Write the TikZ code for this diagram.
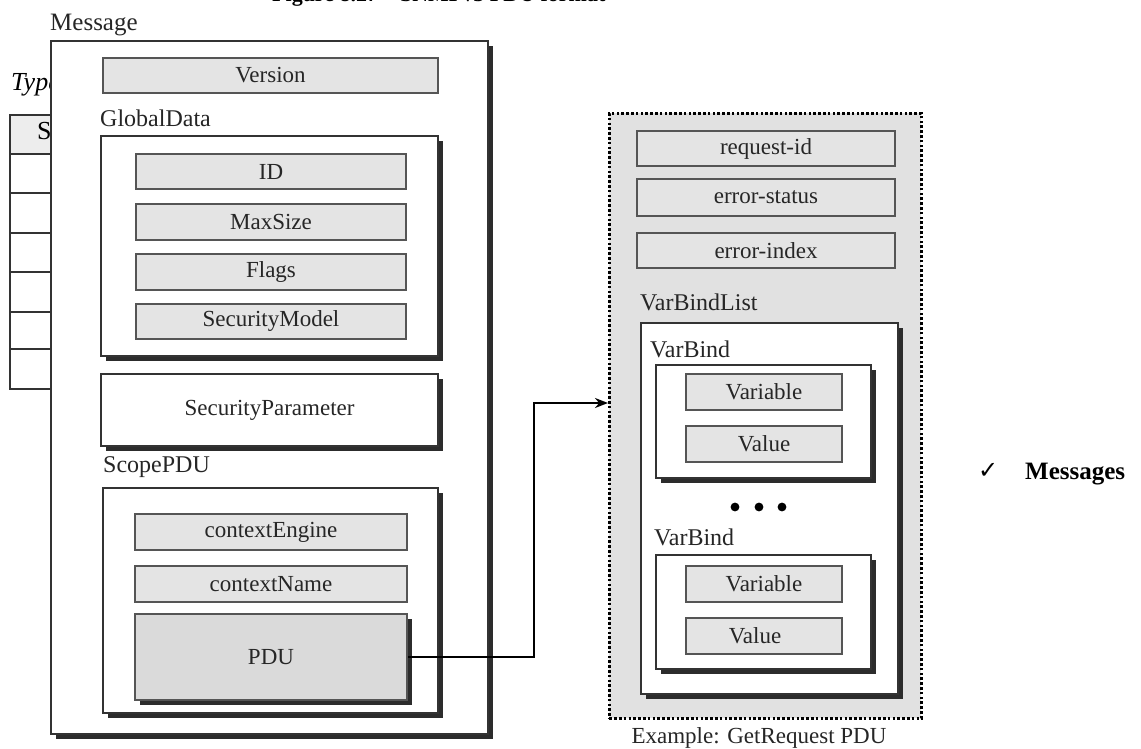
\documentclass[tikz,border=0pt]{standalone}
\usepackage{fontspec}
\setmainfont{Liberation Serif}
\newfontfamily\symfont{DejaVu Sans}
\usetikzlibrary{arrows.meta,shadows}

\newcommand{\fz}[1]{\fontsize{#1}{#1}\selectfont}

\definecolor{fieldfill}{HTML}{E4E4E4}
\definecolor{pdufill}{HTML}{DADADA}
\definecolor{edge}{HTML}{333333}
\definecolor{fieldedge}{HTML}{555555}
\definecolor{shade}{HTML}{2C2C2C}
\definecolor{ink}{HTML}{262626}
\definecolor{panel}{HTML}{E1E1E1}
\definecolor{headfill}{HTML}{EDEDED}

\tikzset{
  wh/.style 2 args={minimum width=#1pt, minimum height=#2pt, inner sep=0pt, anchor=north west},
  field/.style={draw=fieldedge, line width=2pt, fill=fieldfill, text=ink, font=\fz{23}},
  holder/.style={draw=edge, line width=2.2pt, fill=white, text=ink, font=\fz{23},
    drop shadow={shadow xshift=5pt, shadow yshift=-5pt, fill=shade, opacity=1}},
  caption/.style={anchor=base west, inner sep=0pt, text=ink, font=\fz{24}},
  tabline/.style={draw=edge, line width=1.6pt},
  link/.style={draw=black, line width=2.4pt, -{Stealth[length=13pt,width=10pt]}},
}

\begin{document}
\begin{tikzpicture}[x=1pt,y=-1pt]
\useasboundingbox (0,0) rectangle (1141,749);

% heading at the top edge of the page
\node[anchor=base west, inner sep=0pt, font=\bfseries\fz{22}] (title) at (272,2) {Figure 8.27 -- SNMPv3 PDU format};

% text and table lying behind the message box
\node[anchor=base west, inner sep=0pt, font=\itshape\fz{26}] (typ) at (11,91) {Types of messages};
\fill[headfill] (10,115) rectangle (120,154);
\node[anchor=base west, inner sep=0pt, font=\fz{26}] (sno) at (37,140) {S.No};
\draw[tabline] (120,115) -- (10,115) -- (10,389) -- (120,389);
\foreach \yy in {154,193,233,272,312,349} \draw[tabline] (10,\yy) -- (120,\yy);

% message
\node[caption, font=\fz{25}] (msglbl) at (50,31) {Message};
\node[holder, wh={437}{693}] (msg) at (50,40) {};
\node[field, wh={335}{35}] (version) at (102,57) {Version};

% global data
\node[caption] (gdlbl) at (100,127) {GlobalData};
\node[holder, wh={337}{220}] (gd) at (100,135) {};
\node[field, wh={270}{35}] (id) at (135,153) {ID};
\node[field, wh={270}{36}] (maxsize) at (135,203) {MaxSize};
\node[field, wh={270}{36}] (flags) at (135,253) {Flags};
\node[field, wh={270}{35}] (secmodel) at (135,303) {SecurityModel};

% security parameters
\node[holder, wh={337}{72}] (secparam) at (100,373) {SecurityParameter};

% scoped PDU
\node[caption] (splbl) at (103,472) {ScopePDU};
\node[holder, wh={335}{225}] (scope) at (102,487) {};
\node[field, wh={272}{36}] (ctxengine) at (134,513) {contextEngine};
\node[field, wh={272}{36}] (ctxname) at (134,565) {contextName};
\node[field, fill=pdufill, wh={272}{86},
  drop shadow={shadow xshift=5pt, shadow yshift=-5pt, fill=shade, opacity=1}] (pdu) at (134,613) {PDU};

% GetRequest PDU panel
\node[draw=black, dash pattern=on 2.6pt off 2.2pt, line width=2.6pt, fill=panel, wh={312}{605}] (panel) at (608,112) {};
\node[anchor=base, inner sep=0pt, text=ink, font=\fz{23}] (paneltitle) at (759,743) {Example: GetRequest PDU};
\node[field, wh={258}{35}] (reqid) at (636,130) {request-id};
\node[field, wh={258}{37}] (errstatus) at (636,178) {error-status};
\node[field, wh={258}{35}] (errindex) at (636,232) {error-index};

\node[caption] (vbllbl) at (640,310) {VarBindList};
\node[holder, wh={257}{371}] (vbl) at (640,322) {};

\node[caption] (vb1lbl) at (650,357) {VarBind};
\node[holder, wh={215}{113}] (vb1) at (655,364) {};
\node[field, wh={156}{36}] (var1) at (685,373) {Variable};
\node[field, wh={156}{36}] (val1) at (685,425) {Value};

\foreach \xx [count=\i] in {735,759,782}
  \fill[black] (\xx,507) circle (4.4pt) coordinate (dot\i);

\node[caption] (vb2lbl) at (654,545) {VarBind};
\node[holder, wh={215}{114}] (vb2) at (655,554) {};
\node[field, wh={156}{36}] (var2) at (685,565) {Variable};
\node[field, wh={156}{36}, text width=156pt, align=center] (val2) at (685,617) {\hspace*{-18pt}Value};

% PDU expands into the panel
\coordinate (bend) at (534,403);
\draw[link] (pdu.east) -| (bend) -- (bend -| panel.west);

% side bullet
\node[anchor=base west, inner sep=0pt, font=\symfont\fz{24}] (tick) at (978,478) {✓};
\node[anchor=base west, inner sep=0pt, font=\bfseries\fz{25}] (messages) at (1025,479) {Messages};
\end{tikzpicture}
\end{document}
